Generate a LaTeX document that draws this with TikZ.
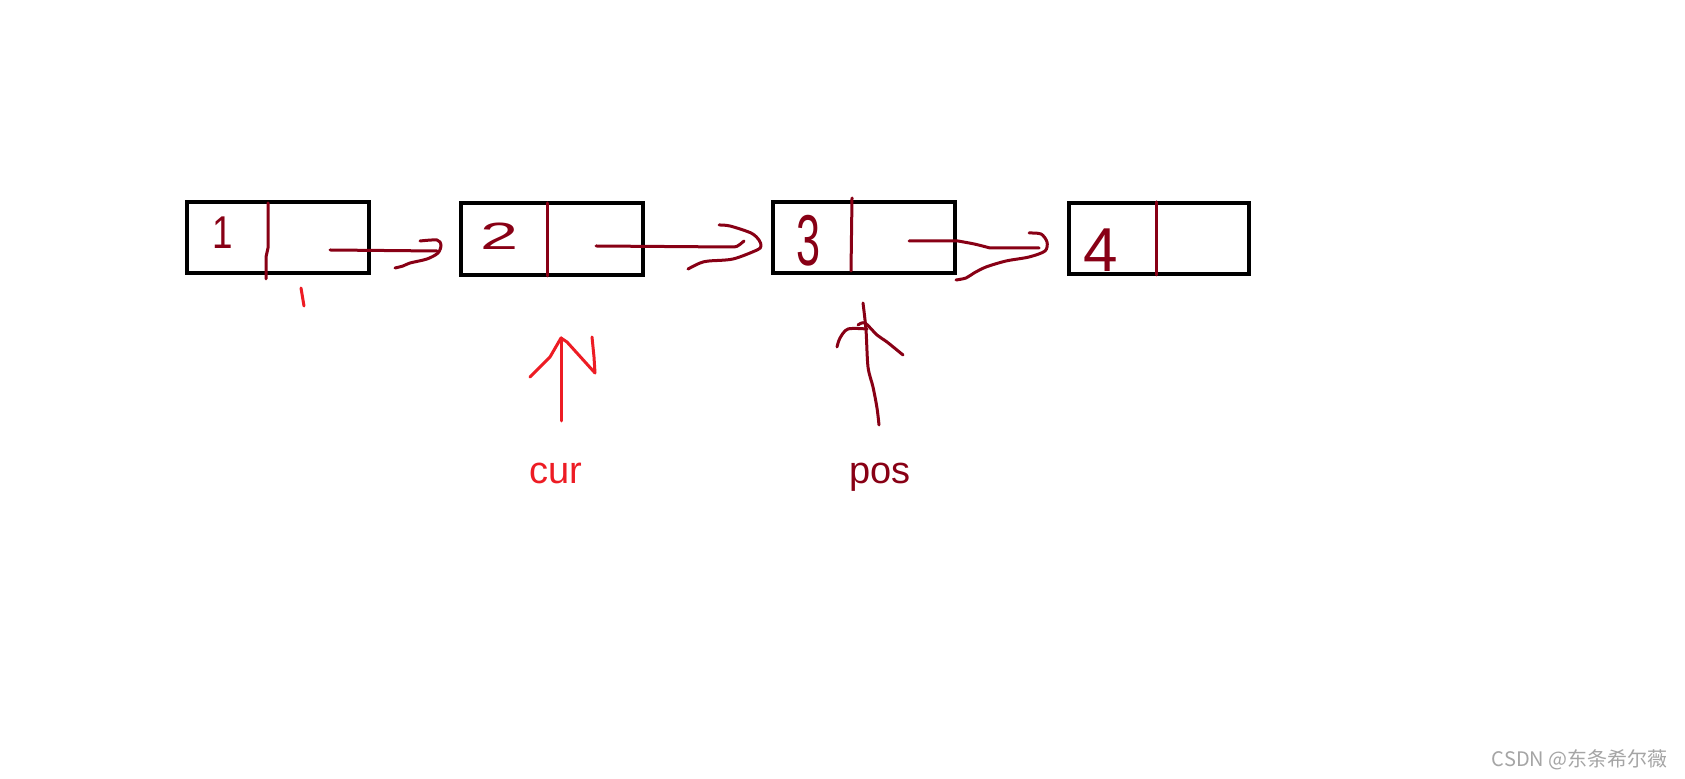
\documentclass[tikz,border=0pt]{standalone}
\usepackage{fontspec}
\setmainfont{Liberation Sans}
\newfontfamily\cjk{Noto Sans CJK SC}
\definecolor{dred}{RGB}{136,0,21}
\definecolor{pred}{RGB}{237,28,36}
\definecolor{wmgray}{RGB}{165,165,165}
\begin{document}
\begin{tikzpicture}[x=0.5pt,y=-0.5pt,
  box/.style={draw=black,line width=2pt,minimum width=91pt,minimum height=35.5pt,inner sep=0pt},
  pen/.style={draw=dred,line width=1.5pt,line cap=round,line join=round},
  redpen/.style={draw=pred,line width=1.5pt,line cap=round,line join=round},
  digit/.style={text=dred,inner sep=0pt},
  label/.style={inner sep=0pt,anchor=base,font=\fontsize{19pt}{19pt}\selectfont}
]
\useasboundingbox[fill=white] (0,0) rectangle (1685,779);

% boxes
\node[box] (b1) at (278,237.5) {};
\node[box,minimum height=36pt] (b2) at (552,239) {};
\node[box] (b3) at (863.5,237.5) {};
\node[box,minimum width=90pt] (b4) at (1159,238.5) {};

% dividers
\draw[pen] (268,203) -- (268,248) -- (266,257) -- (266,279);
\draw[pen] (547,203) -- (547,276);
\draw[pen] (852,198) -- (851,271);
\draw[pen] (1156,202) -- (1156,275);

% digits
\node[digit,font=\fontsize{23pt}{23pt}\selectfont,xscale=0.8] (d1) at (223,233) {1};
\node[digit,font=\fontsize{19pt}{19pt}\selectfont,xscale=1.8] (d2) at (500,236) {2};
\node[digit,font=\fontsize{36pt}{36pt}\selectfont,xscale=0.6] (d3) at (809,241) {3};
\node[digit,font=\fontsize{31pt}{31pt}\selectfont] (d4) at (1101,250) {4};

% arrow 1 -> 2
\draw[pen] (330,250) -- (437,251);
\draw[pen] plot[smooth,tension=0.5] coordinates {(420,241) (437,240) (441,245) (438,253) (427,259) (410,263) (403,266) (395,268)};
% arrow 2 -> 3
\draw[pen] (596,246) -- (731,247) .. controls (737,247) .. (744,241);
\draw[pen] plot[smooth,tension=0.5] coordinates {(719,225) (730,226) (751,233) (759,240) (761,246) (757,250) (733,259) (709,261) (700,263) (688,269)};
% arrow 3 -> 4
\draw[pen] (909,241) -- (958,241) .. controls (975,244) .. (990,248) -- (1039,248);
\draw[pen] plot[smooth,tension=0.5] coordinates {(1029,233) (1041,234) (1047,242) (1045,251) (1029,257) (1006,261) (986,267) (974,273) (966,278) (956,280)};

% small red tick
\draw[redpen] (301,288) -- (304,306);

% cur arrow
\draw[redpen] (561,338) -- (561,421);
\draw[redpen] (530,377) -- (550,357) -- (561,338) -- (567,342) -- (595,373) -- (594,357) -- (592,337);
\node[label,text=pred] (cur) at (556,484) {cur};

% pos arrow
\draw[pen] plot[smooth,tension=0.5] coordinates {(863,303) (866,330) (868,367) (873,387) (877,408) (879,425)};
\draw[pen] plot[smooth,tension=0.5] coordinates {(837,347) (840,338) (848,329) (867,329)};
\draw[pen] plot[smooth,tension=0.5] coordinates {(858,325) (865,323) (877,335) (887,342) (903,355)};
\node[label,text=dred] (pos) at (880,484) {pos};

% watermark
\node[inner sep=0pt,anchor=east,text=wmgray,font=\cjk\fontsize{10pt}{10pt}\selectfont] (wm) at (1668,760) {CSDN @东条希尔薇};
\end{tikzpicture}
\end{document}
